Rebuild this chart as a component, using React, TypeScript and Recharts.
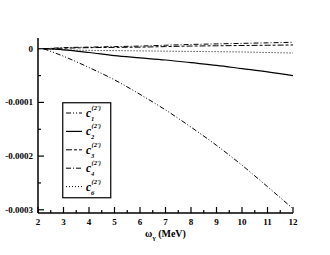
import { LineChart, Line, XAxis, YAxis, Legend } from 'recharts';

// photon energy (MeV) and the five coefficients
const omega = [2.22, 3, 4, 5, 6, 7, 8, 9, 10, 11, 12];
const c1 = [0, -0.000014, -0.000035, -0.000058, -0.000085, -0.000114, -0.000146, -0.00018, -0.000217, -0.000257, -0.000298];
const c2 = [0, -0.000002, -0.000007, -0.000013, -0.000017, -0.000021, -0.000026, -0.000031, -0.000037, -0.000043, -0.00005];
const c3 = [0, 0.000001, 0.000002, 0.0000025, 0.000003, 0.000004, 0.000005, 0.0000055, 0.000006, 0.0000065, 0.000007];
const c4 = [0, 0.000002, 0.000003, 0.000004, 0.000005, 0.0000065, 0.000008, 0.000009, 0.00001, 0.000011, 0.000012];
const c6 = [0, -0.000002, -0.000003, -0.0000035, -0.000004, -0.0000045, -0.000005, -0.0000055, -0.000006, -0.000007, -0.000008];

const xTicks = [2, 2.5, 3, 3.5, 4, 4.5, 5, 5.5, 6, 6.5, 7, 7.5, 8, 8.5, 9, 9.5, 10, 10.5, 11, 11.5, 12];
const yTicks = [-0.0003, -0.00025, -0.0002, -0.00015, -0.0001, -0.00005, 0];

const series = [
  { key: 'c1', sub: '1', dash: '5 2 1 2 1 2', width: 1 },
  { key: 'c2', sub: '2', dash: undefined, width: 1.2 },
  { key: 'c3', sub: '3', dash: '6 2 3 2', width: 1 },
  { key: 'c4', sub: '4', dash: '5 2 1 2', width: 1 },
  { key: 'c6', sub: '6', dash: '1 2', width: 1 },
];

const data = omega.map((w, i) => ({ w, c1: c1[i], c2: c2[i], c3: c3[i], c4: c4[i], c6: c6[i] }));

const FONT = '"Liberation Serif", "DejaVu Serif", serif';

const isMajorY = (v: number) => Math.abs(v / 0.0001 - Math.round(v / 0.0001)) < 1e-6;

function BottomTick(props: any) {
  const { x, y, payload } = props;
  const major = Number.isInteger(payload.value);
  return (
    <g>
      <line x1={x} x2={x} y1={y} y2={y - (major ? 6 : 3)} stroke="#000" strokeWidth={1.2} />
      {major && (
        <text x={x} y={y + 12} textAnchor="middle" fontFamily={FONT} fontWeight="bold" fontSize={9} fill="#000">
          {payload.value}
        </text>
      )}
    </g>
  );
}

function TopTick(props: any) {
  const { x, y, payload } = props;
  const major = Number.isInteger(payload.value);
  return <line x1={x} x2={x} y1={y} y2={y + (major ? 6 : 3)} stroke="#000" strokeWidth={1.2} />;
}

function LeftTick(props: any) {
  const { x, y, payload } = props;
  const major = isMajorY(payload.value);
  return (
    <g>
      <line x1={x} x2={x + (major ? 6 : 3)} y1={y} y2={y} stroke="#000" strokeWidth={1.2} />
      {major && (
        <text x={x - 5} y={y + 3} textAnchor="end" fontFamily={FONT} fontWeight="bold" fontSize={9} fill="#000">
          {payload.value === 0 ? '0' : payload.value.toFixed(4)}
        </text>
      )}
    </g>
  );
}

function RightTick(props: any) {
  const { x, y, payload } = props;
  const major = isMajorY(payload.value);
  return <line x1={x} x2={x - (major ? 6 : 3)} y1={y} y2={y} stroke="#000" strokeWidth={1.2} />;
}

function XLabel(props: any) {
  const vb = props.viewBox || { x: 38, y: 213, width: 255 };
  const cx = vb.x + vb.width / 2;
  return (
    <text x={cx} y={vb.y + 24} textAnchor="middle" fontFamily={FONT} fontWeight="bold" fontSize={10} fill="#000">
      <tspan>ω</tspan>
      <tspan fontSize={7} dy={3}>γ</tspan>
      <tspan dy={-3}> (MeV)</tspan>
    </text>
  );
}

function LegendBox() {
  return (
    <svg width={50} height={98} style={{ display: 'block' }}>
      <rect x={0.75} y={0.75} width={48} height={95} fill="#fff" stroke="#000" strokeWidth={1.2} />
      {series.map((s, i) => {
        const sy = 11 + i * 18.4;
        return (
          <g key={s.key}>
            <line x1={4} x2={20} y1={sy} y2={sy} stroke="#000" strokeWidth={s.width} strokeDasharray={s.dash} />
            <text x={24} y={sy + 4} fontFamily={FONT} fontStyle="italic" fontWeight="bold" fontSize={11.5} fill="#000">c</text>
            <text x={29.5} y={sy - 3} fontFamily={FONT} fontStyle="italic" fontWeight="bold" fontSize={6.5} fill="#000">(2')</text>
            <text x={29} y={sy + 8} fontFamily={FONT} fontStyle="italic" fontWeight="bold" fontSize={6.5} fill="#000">{s.sub}</text>
          </g>
        );
      })}
    </svg>
  );
}

export default function App() {
  return (
    <div style={{ position: 'absolute', left: 0, top: 0, background: '#fff' }}>
      <LineChart width={330} height={255} data={data} margin={{ top: 38, right: 37, left: 0, bottom: 0 }}>
        <XAxis
          dataKey="w"
          type="number"
          domain={[2, 12]}
          ticks={xTicks}
          interval={0}
          height={42}
          stroke="#000"
          strokeWidth={1.5}
          tickLine={false}
          tickSize={0}
          tickMargin={0}
          tick={BottomTick}
          label={{ content: XLabel }}
          allowDataOverflow
        />
        <XAxis
          xAxisId="top"
          orientation="top"
          dataKey="w"
          type="number"
          domain={[2, 12]}
          ticks={xTicks}
          interval={0}
          height={0}
          stroke="#000"
          strokeWidth={1.5}
          tickLine={false}
          tickSize={0}
          tickMargin={0}
          tick={TopTick}
          allowDataOverflow
        />
        <YAxis
          type="number"
          domain={[-0.000306, 0.00002]}
          ticks={yTicks}
          interval={0}
          width={38}
          stroke="#000"
          strokeWidth={1.5}
          tickLine={false}
          tickSize={0}
          tickMargin={0}
          tick={LeftTick}
          allowDataOverflow
        />
        <YAxis
          yAxisId="right"
          orientation="right"
          type="number"
          domain={[-0.000306, 0.00002]}
          ticks={yTicks}
          interval={0}
          width={0}
          stroke="#000"
          strokeWidth={1.5}
          tickLine={false}
          tickSize={0}
          tickMargin={0}
          tick={RightTick}
          allowDataOverflow
        />
        <Legend
          layout="vertical"
          align="center"
          verticalAlign="middle"
          content={LegendBox}
          wrapperStyle={{ position: 'absolute', left: 62, top: 102, width: 50, height: 98 }}
        />
        {series.map((s) => (
          <Line
            key={s.key}
            dataKey={s.key}
            stroke="#000"
            strokeWidth={s.width}
            strokeDasharray={s.dash}
            dot={false}
            type="monotone"
            isAnimationActive={false}
          />
        ))}
      </LineChart>
    </div>
  );
}
